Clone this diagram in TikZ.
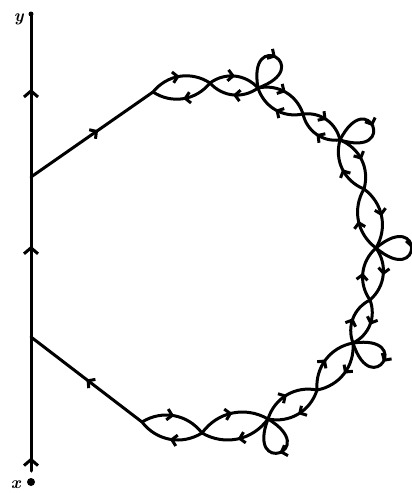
\documentclass[tikz,border=0pt]{standalone}
\usetikzlibrary{arrows.meta,decorations.markings}
\tikzset{
  ln/.style={line width=3pt, line cap=round},
  marr/.style={postaction={decorate}, decoration={markings, mark=at position #1 with {\arrow{Straight Barb[length=5pt,width=11pt]}}}},
  varr/.style={postaction={decorate}, decoration={markings, mark=at position #1 with {\arrow{Straight Barb[length=6pt,width=14pt]}}}},
  lens/.style={ln, marr=0.5, bend left=42},
  petal/.style={ln, marr=0.5},
  dot/.style={circle, fill=black, inner sep=0pt, minimum size=#1},
  lbl/.style={font=\LARGE\bfseries\itshape}
}
\begin{document}
\begin{tikzpicture}[x=1pt,y=1pt]
\useasboundingbox (0,0) rectangle (412,-493);
% vertical line nodes
\node[dot=5pt] (y) at (31,-14) {};
\node[dot=8pt] (x) at (31,-482) {};
\coordinate (xs) at (31,-471);
\coordinate (v1) at (31,-337);
\coordinate (v2) at (31,-177);
\node[lbl, anchor=east] (ylab) at (27,-19) {y};
\node[lbl, anchor=east] (xlab) at (24,-485) {x};
\draw[ln, varr=0.1] (xs) -- (v1);
\draw[ln, varr=0.57] (v1) -- (v2);
\draw[ln, varr=0.54] (v2) -- (y.center);
% chain points
\coordinate (P0) at (153,-92);
\coordinate (C1) at (210,-83);
\coordinate (V1) at (258,-88);
\coordinate (C2) at (303,-114);
\coordinate (V2) at (340,-140);
\coordinate (C3) at (364,-189);
\coordinate (V3) at (376,-248);
\coordinate (C4) at (370,-300);
\coordinate (V4) at (353,-343);
\coordinate (C5) at (317,-390);
\coordinate (V5) at (268,-419);
\coordinate (C6) at (202,-433);
\coordinate (P7) at (142,-422);
% branches
\draw[ln, marr=0.55] (v2) -- (P0);
\draw[ln, marr=0.5] (P7) -- (v1);
% lenses
\foreach \a/\b in {P0/C1, C1/V1, V1/C2, C2/V2, V2/C3, C3/V3, V3/C4, C4/V4, V4/C5, C5/V5, V5/C6, C6/P7}{
  \draw[lens] (\a) to (\b);
  \draw[lens] (\b) to (\a);
}
% petals
\foreach \v/\ang in {V1/60, V2/23, V3/0, V4/-32, V5/-71}{
  \draw[petal] (\v) .. controls +(\ang+40:62) and +(\ang-40:62) .. (\v);
}
\end{tikzpicture}
\end{document}
